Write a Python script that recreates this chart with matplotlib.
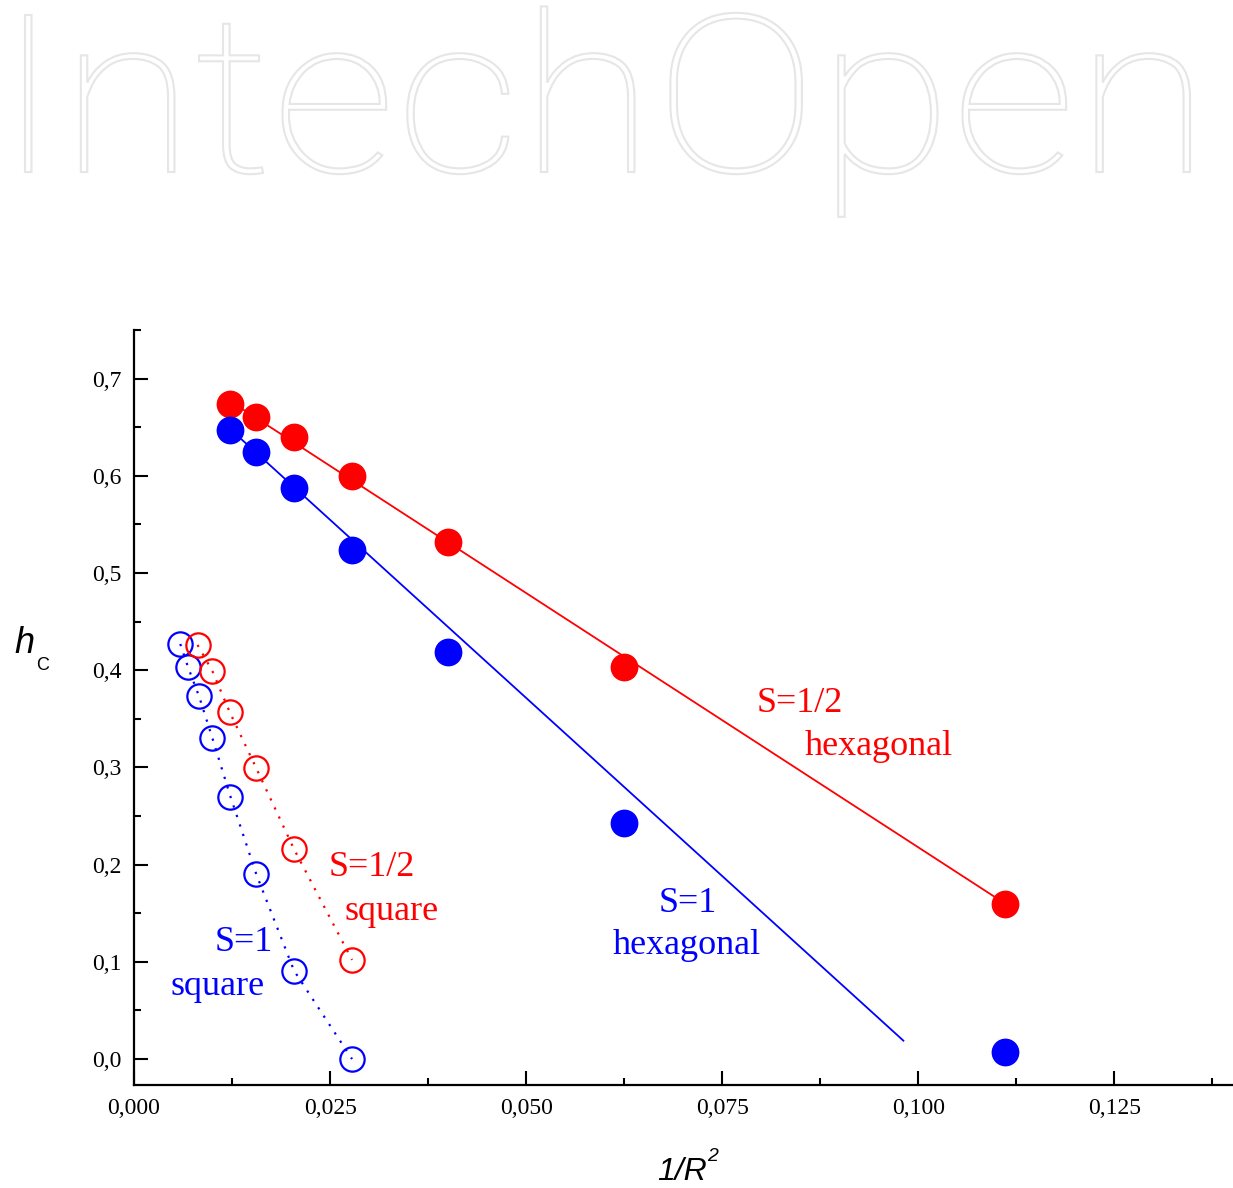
import numpy as np
import matplotlib
matplotlib.use("Agg")
import matplotlib.pyplot as plt
from matplotlib.ticker import MultipleLocator, FuncFormatter
from matplotlib.textpath import TextPath
from matplotlib.patches import PathPatch
from matplotlib.font_manager import FontProperties
from matplotlib.transforms import Affine2D

# ---------------- data ----------------
hex_x = [0.0123, 0.0156, 0.0204, 0.0278, 0.0400, 0.0625, 0.1111]
hex_half_y = [0.674, 0.661, 0.640, 0.600, 0.532, 0.403, 0.160]   # S=1/2 hexagonal
hex_one_y = [0.647, 0.624, 0.587, 0.524, 0.419, 0.243, 0.007]    # S=1 hexagonal

sq_one_x = [0.0059, 0.0069, 0.0083, 0.0100, 0.0123, 0.0156, 0.0204, 0.0278]
sq_one_y = [0.427, 0.403, 0.373, 0.330, 0.270, 0.190, 0.091, 0.000]  # S=1 square
sq_half_x = [0.0081, 0.0100, 0.0122, 0.0156, 0.0204, 0.0278]
sq_half_y = [0.426, 0.399, 0.357, 0.299, 0.216, 0.102]              # S=1/2 square

# linear fits drawn in the reference (intercept, slope, x-range)
fit_half = (0.741, -5.232, 0.0123, 0.1111)
fit_one = (0.738, -7.33, 0.0123, 0.0981)

RED = "#ff0000"
BLUE = "#0000ff"
W, H = 1233, 1188

fig = plt.figure(figsize=(W / 100, H / 100), dpi=100)
fig.patch.set_facecolor("white")

# ---------------- watermark (outlined text, fitted to its box) ----------------
fp = FontProperties(family="Roboto", weight="light")
wm = TextPath((0, 0), "IntechOpen", size=1, prop=fp)
cap = TextPath((0, 0), "I", size=1, prop=fp).get_extents()
ext = wm.get_extents()
x_left, x_right, y_cap_top, y_base = 25, 1190, 15, 172   # pixel box (from top-left)
sx = (x_right - x_left) / ext.width
sy = (y_base - y_cap_top) / cap.height
tr = (Affine2D().translate(-ext.x0, 0).scale(sx, sy)
      .translate(x_left, H - y_base).scale(1 / W, 1 / H) + fig.transFigure)
fig.patches.append(PathPatch(wm, transform=tr, facecolor="white",
                             edgecolor="#e6e6e6", lw=1.5, zorder=0))

# ---------------- axes ----------------
ax = fig.add_axes([134 / W, 1 - 1085 / H, (1232 - 134) / W, (1085 - 330) / H])
ax.set_xlim(0, 0.140)
ax.set_ylim(-0.0267, 0.75)

for side in ("top", "right"):
    ax.spines[side].set_visible(False)
for side in ("left", "bottom"):
    ax.spines[side].set_linewidth(1.6)

ax.xaxis.set_major_locator(MultipleLocator(0.025))
ax.xaxis.set_minor_locator(MultipleLocator(0.0125))
ax.yaxis.set_major_locator(MultipleLocator(0.1))
ax.yaxis.set_minor_locator(MultipleLocator(0.05))
ax.xaxis.set_major_formatter(FuncFormatter(lambda v, p: f"{v:.3f}".replace(".", ",")))
ax.yaxis.set_major_formatter(FuncFormatter(lambda v, p: f"{v:.1f}".replace(".", ",")))
ax.tick_params(which="both", direction="in", top=False, right=False, width=1.5)
ax.tick_params(which="major", length=10, labelsize=17, pad=9)
ax.tick_params(which="minor", length=5)
for lab in ax.get_xticklabels() + ax.get_yticklabels():
    lab.set_fontfamily("Liberation Serif")

# fit lines
for (b, m, x0, x1), c in ((fit_half, RED), (fit_one, BLUE)):
    xs = np.array([x0, x1])
    ax.plot(xs, b + m * xs, color=c, lw=1.3, zorder=2)

# dotted connecting lines + open markers
ax.plot(sq_one_x, sq_one_y, color=BLUE, lw=1.6, ls=(0, (1, 3.5)), zorder=2)
ax.plot(sq_half_x, sq_half_y, color=RED, lw=1.6, ls=(0, (1, 3.5)), zorder=2)
ax.plot(sq_one_x, sq_one_y, ls="none", marker="o", ms=17.5, mfc="none",
        mec=BLUE, mew=1.6, zorder=3)
ax.plot(sq_half_x, sq_half_y, ls="none", marker="o", ms=17.5, mfc="none",
        mec=RED, mew=1.6, zorder=3)

# filled markers
ax.plot(hex_x, hex_half_y, ls="none", marker="o", ms=19, mfc=RED, mec=RED, zorder=4)
ax.plot(hex_x, hex_one_y, ls="none", marker="o", ms=19, mfc=BLUE, mec=BLUE, zorder=5)

# annotations
tkw = dict(family="Liberation Serif", fontsize=26, ha="center", va="baseline")
ax.text(0.0849, 0.357, "S=1/2", color=RED, **tkw)
ax.text(0.0949, 0.3124, "hexagonal", color=RED, **tkw)
ax.text(0.0706, 0.1514, "S=1", color=BLUE, **tkw)
ax.text(0.0705, 0.1076, "hexagonal", color=BLUE, **tkw)
ax.text(0.0303, 0.1884, "S=1/2", color=RED, **tkw)
ax.text(0.0329, 0.1429, "square", color=RED, **tkw)
ax.text(0.0140, 0.1113, "S=1", color=BLUE, **tkw)
ax.text(0.01065, 0.0658, "square", color=BLUE, **tkw)

# axis labels (built from pieces: italic sans + sub/superscript)
lkw = dict(family="Liberation Sans", color="black", va="baseline")
fig.text(14 / W, 1 - 653 / H, "h", fontsize=26, style="italic", ha="left", **lkw)
fig.text(36 / W, 1 - 670 / H, "C", fontsize=13, ha="left", **lkw)
fig.text(707 / W, 1 - 1180 / H, "1/R", fontsize=23, style="italic", ha="right", **lkw)
fig.text(707 / W, 1 - 1161 / H, "2", fontsize=14, style="italic", ha="left", **lkw)

fig.savefig("out.png", dpi=100, facecolor="white")
